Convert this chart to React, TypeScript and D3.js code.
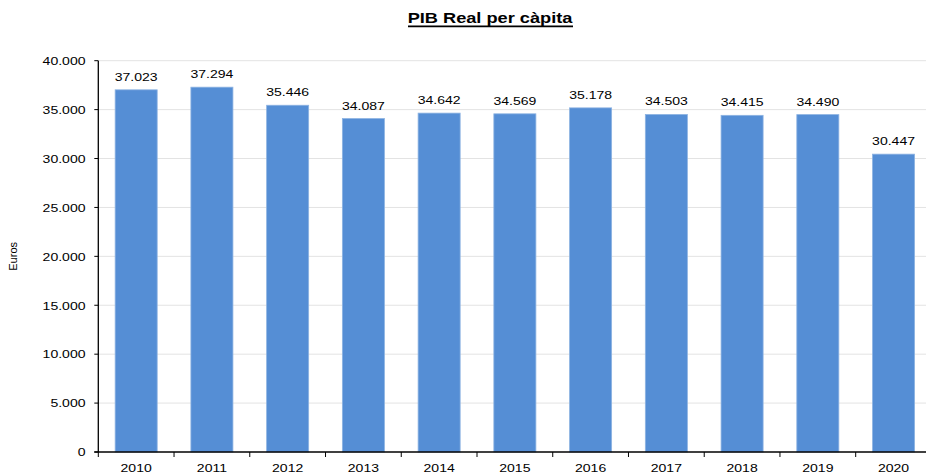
import React from "react";
import * as d3 from "d3";

const years = ["2010", "2011", "2012", "2013", "2014", "2015", "2016", "2017", "2018", "2019", "2020"];
const gdpPerCapita = [37023, 37294, 35446, 34087, 34642, 34569, 35178, 34503, 34415, 34490, 30447];
const yTicks = [0, 5000, 10000, 15000, 20000, 25000, 30000, 35000, 40000];

const width = 926;
const height = 474;
const margin = { top: 60.7, left: 98.3, bottom: 452 };
const band = 75.74;
const font = "'Liberation Sans', Arial, sans-serif";
const stretch = 1.19; // the reference text is a bit wider than it is tall

const fmt = (v: number) => d3.format(",")(v).replace(/,/g, ".");

// text drawn with a horizontal stretch around its anchor point
function T(props: { x: number; y: number; size: number; anchor?: string; bold?: boolean; children: any }) {
  const { x, y, size, anchor = "middle", bold, children } = props;
  return (
    <text
      transform={`translate(${x},${y}) scale(${stretch},1)`}
      textAnchor={anchor}
      fontSize={size}
      fontWeight={bold ? "bold" : "normal"}
      fill="#000"
    >
      {children}
    </text>
  );
}

export default function App() {
  const x = d3
    .scaleBand()
    .domain(years)
    .range([margin.left, margin.left + band * years.length])
    .paddingInner(0.445)
    .paddingOuter(0.2225);

  const y = d3.scaleLinear().domain([0, 40000]).range([margin.bottom, margin.top]);
  const xRight = margin.left + band * years.length;

  return (
    <svg
      width={width}
      height={height}
      style={{ position: "absolute", left: 0, top: 0, background: "#fff" }}
      fontFamily={font}
    >
      <T x={490} y={23.3} size={15.3} bold>
        PIB Real per càpita
      </T>
      <line x1={408} x2={573} y1={26.3} y2={26.3} stroke="#000" strokeWidth={1.8} />

      {/* gridlines */}
      {yTicks
        .filter((t) => t > 0)
        .map((t) => (
          <line key={t} x1={margin.left} x2={xRight} y1={y(t)} y2={y(t)} stroke="#e3e3e3" strokeWidth={1} />
        ))}

      {/* bars */}
      {years.map((yr, i) => (
        <rect
          key={yr}
          x={x(yr)!}
          y={y(gdpPerCapita[i])}
          width={x.bandwidth()}
          height={margin.bottom - y(gdpPerCapita[i])}
          fill="#558ed5"
          stroke="#8db3e2"
          strokeWidth={0.8}
        />
      ))}

      {/* value labels */}
      {years.map((yr, i) => (
        <T key={yr} x={x(yr)! + x.bandwidth() / 2} y={y(gdpPerCapita[i]) - 9} size={11.8}>
          {fmt(gdpPerCapita[i])}
        </T>
      ))}

      {/* y axis */}
      <line x1={margin.left} x2={margin.left} y1={margin.top} y2={margin.bottom} stroke="#000" strokeWidth={1.3} />
      {yTicks.map((t) => (
        <g key={t}>
          <line x1={margin.left - 4} x2={margin.left} y1={y(t)} y2={y(t)} stroke="#000" strokeWidth={1} />
          <T x={85.5} y={y(t) + 4.3} size={11.8} anchor="end">
            {fmt(t)}
          </T>
        </g>
      ))}
      <text
        transform={`translate(17, ${(margin.top + margin.bottom) / 2}) rotate(-90)`}
        textAnchor="middle"
        fontSize={11}
        fill="#000"
      >
        Euros
      </text>

      {/* x axis */}
      <line x1={margin.left - 4} x2={xRight} y1={margin.bottom} y2={margin.bottom} stroke="#000" strokeWidth={1.3} />
      {years.map((yr, i) => (
        <g key={yr}>
          <line
            x1={margin.left + band * i}
            x2={margin.left + band * i}
            y1={margin.bottom}
            y2={margin.bottom + 5}
            stroke="#000"
            strokeWidth={1}
          />
          <T x={x(yr)! + x.bandwidth() / 2} y={472} size={11.8}>
            {yr}
          </T>
        </g>
      ))}
    </svg>
  );
}
